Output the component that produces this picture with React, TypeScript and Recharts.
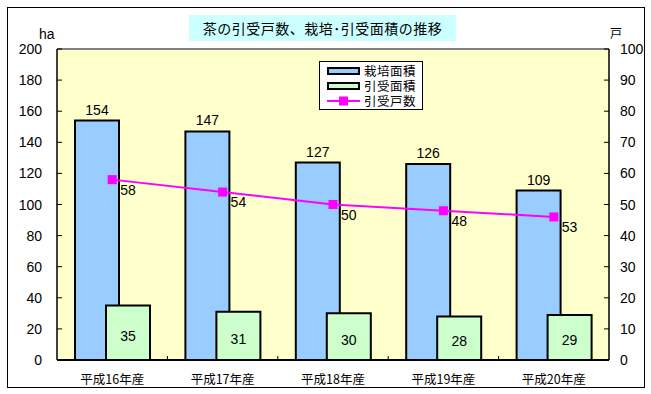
import { ComposedChart, Bar, Line, XAxis, YAxis, CartesianGrid, ReferenceLine, LabelList } from 'recharts';

const categories = ['平成16年産', '平成17年産', '平成18年産', '平成19年産', '平成20年産'];
const cultivatedArea = [154, 147, 127, 126, 109];
const insuredArea = [35, 31, 30, 28, 29];
const insuredHouseholds = [58, 54, 50, 48, 46];
const householdLabels = ['58', '54', '50', '48', '53'];
const leftTicks = [0, 20, 40, 60, 80, 100, 120, 140, 160, 180, 200];
const rightTicks = [0, 10, 20, 30, 40, 50, 60, 70, 80, 90, 100];

const data = categories.map((name, i) => ({
  name,
  cultivated: cultivatedArea[i],
  insured: insuredArea[i],
  households: insuredHouseholds[i],
  hhLabel: householdLabels[i],
}));

const JP = '"Noto Sans CJK JP", sans-serif';
const NUM = '"Liberation Sans", sans-serif';

function LeftTick(props: any) {
  const { x, y, payload } = props;
  return (
    <g>
      <line x1={x} x2={x + 5} y1={y} y2={y} stroke="#000" />
      <text x={x - 15} y={y} textAnchor="end" dominantBaseline="central" fontSize={14} fontFamily={NUM} fill="#000">
        {payload.value}
      </text>
    </g>
  );
}

function RightTick(props: any) {
  const { x, y, payload } = props;
  return (
    <g>
      <line x1={x - 5} x2={x} y1={y} y2={y} stroke="#000" />
      <text x={x + 11} y={y} textAnchor="start" dominantBaseline="central" fontSize={14} fontFamily={NUM} fill="#000">
        {payload.value}
      </text>
    </g>
  );
}

function CategoryTick(props: any) {
  const { x, y, payload, index } = props;
  const half = payload && payload.offset ? payload.offset : 0;
  return (
    <g>
      {half > 0 && index < categories.length - 1 && (
        <line x1={x + half} x2={x + half} y1={y - 4} y2={y} stroke="#000" />
      )}
      <text x={x} y={y + 18} textAnchor="middle" dominantBaseline="central" fontSize={12.5} fontFamily={JP} fill="#000">
        {payload.value}
      </text>
    </g>
  );
}

function SquareDot(props: any) {
  const { cx, cy } = props;
  if (cx == null || cy == null) return null;
  return <rect x={cx - 4.5} y={cy - 4.5} width={9} height={9} fill="#FF00FF" />;
}

function HouseholdLabel(props: any) {
  const { x, y, value } = props;
  return (
    <text x={x + 8} y={y + 10} textAnchor="start" dominantBaseline="central" fontSize={14} fontFamily={NUM} fill="#000">
      {value}
    </text>
  );
}

function LegendBox() {
  const row = (top: number, swatch: JSX.Element, label: string) => (
    <div style={{ position: 'absolute', left: 7, top, height: 14, display: 'flex', alignItems: 'center' }}>
      <svg width={33} height={14} style={{ display: 'block' }}>{swatch}</svg>
      <span style={{ marginLeft: 4, fontSize: 12.5, fontFamily: JP, lineHeight: '14px', letterSpacing: 0.5 }}>{label}</span>
    </div>
  );
  return (
    <div
      style={{
        position: 'absolute',
        left: 319,
        top: 61,
        width: 104,
        height: 49,
        border: '1px solid #000',
        background: '#fff',
        boxSizing: 'border-box',
      }}
    >
      {row(2, <rect x={1} y={4} width={31} height={6} fill="#99CCFF" stroke="#000" strokeWidth={2} />, '栽培面積')}
      {row(17, <rect x={1} y={4} width={31} height={6} fill="#CCFFCC" stroke="#000" strokeWidth={2} />, '引受面積')}
      {row(32, <g><line x1={0} x2={33} y1={7} y2={7} stroke="#FF00FF" strokeWidth={2} /><rect x={12} y={2.5} width={9} height={9} fill="#FF00FF" /></g>, '引受戸数')}
    </div>
  );
}

export default function App() {
  return (
    <div style={{ position: 'absolute', left: 0, top: 0, width: 651, height: 394, background: '#fff' }}>
      <div style={{ position: 'absolute', left: 7, top: 7, width: 638, height: 381, border: '1px solid #000', boxSizing: 'border-box' }} />
      <div
        style={{
          position: 'absolute',
          left: 189,
          top: 15,
          width: 267,
          height: 26,
          background: '#CCFFFF',
          fontFamily: JP,
          fontSize: 14,
          lineHeight: '26px',
          textAlign: 'center',
          letterSpacing: 0.5,
          color: '#000',
        }}
      >
        茶の引受戸数、栽培･引受面積の推移
      </div>
      <div style={{ position: 'absolute', left: 39, top: 27, fontFamily: NUM, fontSize: 14, lineHeight: '14px' }}>ha</div>
      <div style={{ position: 'absolute', left: 610, top: 26, fontFamily: JP, fontSize: 12, lineHeight: '14px' }}>戸</div>
      <ComposedChart
        width={651}
        height={394}
        data={data}
        margin={{ top: 49, right: 0, bottom: 8, left: 0 }}
        barGap={-13}
        style={{ position: 'absolute', left: 0, top: 0 }}
      >
        <CartesianGrid fill="#FFFFCC" horizontal={false} vertical={false} />
        <XAxis
          dataKey="name"
          height={26}
          axisLine={{ stroke: '#000', strokeWidth: 2 }}
          tickLine={false}
          tickSize={0}
          tickMargin={0}
          tick={<CategoryTick />}
          interval={0}
        />
        <YAxis
          yAxisId="left"
          width={57}
          domain={[0, 200]}
          ticks={leftTicks}
          interval={0}
          axisLine={{ stroke: '#000', strokeWidth: 1.5 }}
          tickLine={false}
          tickSize={0}
          tickMargin={0}
          tick={<LeftTick />}
        />
        <YAxis
          yAxisId="right"
          orientation="right"
          width={42}
          domain={[0, 100]}
          ticks={rightTicks}
          interval={0}
          axisLine={{ stroke: '#000', strokeWidth: 1.5 }}
          tickLine={false}
          tickSize={0}
          tickMargin={0}
          tick={<RightTick />}
        />
        <ReferenceLine yAxisId="left" y={200} stroke="#808080" strokeWidth={2} />
        <Bar yAxisId="left" dataKey="cultivated" barSize={44} fill="#99CCFF" stroke="#000" strokeWidth={2} isAnimationActive={false}>
          <LabelList dataKey="cultivated" position="top" offset={6} fontSize={14} fontFamily={NUM} fill="#000" />
        </Bar>
        <Bar yAxisId="left" dataKey="insured" barSize={44} fill="#CCFFCC" stroke="#000" strokeWidth={2} isAnimationActive={false}>
          <LabelList dataKey="insured" position="center" dy={3} fontSize={14} fontFamily={NUM} fill="#000" />
        </Bar>
        <Line
          yAxisId="right"
          type="linear"
          dataKey="households"
          stroke="#FF00FF"
          strokeWidth={2}
          dot={<SquareDot />}
          activeDot={false}
          isAnimationActive={false}
        >
          <LabelList dataKey="hhLabel" content={<HouseholdLabel />} />
        </Line>
      </ComposedChart>
      <LegendBox />
    </div>
  );
}
